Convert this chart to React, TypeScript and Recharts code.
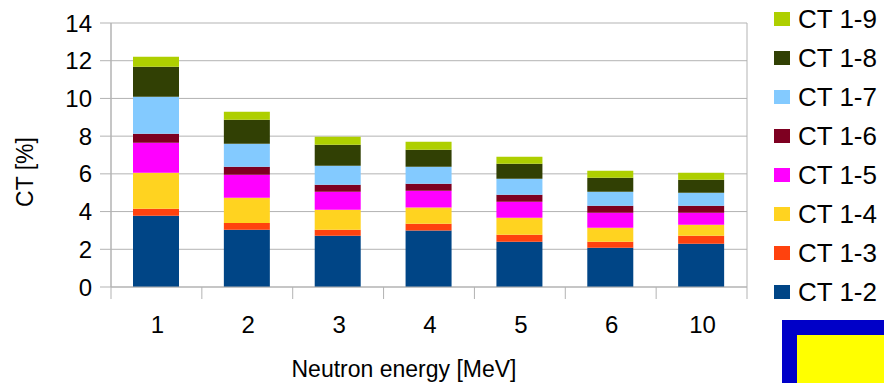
import React from "react";
import { BarChart, Bar, XAxis, YAxis, CartesianGrid } from "recharts";

// neutron energy categories (MeV)
const energies = ["1", "2", "3", "4", "5", "6", "10"];

// crosstalk per channel, in percent
const ct12 = [3.78, 3.04, 2.72, 2.99, 2.4, 2.08, 2.3];
const ct13 = [0.37, 0.36, 0.32, 0.37, 0.37, 0.32, 0.42];
const ct14 = [1.91, 1.33, 1.06, 0.85, 0.9, 0.74, 0.58];
const ct15 = [1.59, 1.22, 0.95, 0.9, 0.85, 0.8, 0.64];
const ct16 = [0.48, 0.43, 0.37, 0.37, 0.37, 0.37, 0.37];
const ct17 = [1.96, 1.22, 1.01, 0.9, 0.85, 0.74, 0.69];
const ct18 = [1.59, 1.27, 1.11, 0.9, 0.8, 0.75, 0.69];
const ct19 = [0.53, 0.42, 0.43, 0.42, 0.37, 0.37, 0.37];

const yTicks = [0, 2, 4, 6, 8, 10, 12, 14];

const series = [
  { key: "ct12", name: "CT 1-2", values: ct12, color: "#004586" },
  { key: "ct13", name: "CT 1-3", values: ct13, color: "#ff420e" },
  { key: "ct14", name: "CT 1-4", values: ct14, color: "#ffd320" },
  { key: "ct15", name: "CT 1-5", values: ct15, color: "#ff00ff" },
  { key: "ct16", name: "CT 1-6", values: ct16, color: "#7e0021" },
  { key: "ct17", name: "CT 1-7", values: ct17, color: "#83caff" },
  { key: "ct18", name: "CT 1-8", values: ct18, color: "#314004" },
  { key: "ct19", name: "CT 1-9", values: ct19, color: "#aecf00" },
];

const data = energies.map((e, i) => {
  const row: Record<string, string | number> = { energy: e };
  series.forEach((s) => (row[s.key] = s.values[i]));
  return row;
});

const W = 884;
const H = 383;
const MARGIN = { top: 23, right: 137, bottom: 0, left: 0 };
const Y_AXIS_W = 111;
const PLOT_W = W - MARGIN.left - MARGIN.right - Y_AXIS_W;
const GRID = "#b3b3b3";
const FONT = "'Liberation Sans', Arial, sans-serif";

// category label plus the separator ticks between categories
const EnergyTick = (props: { x: number; y: number; index: number; payload: { value: string } }) => {
  const half = PLOT_W / energies.length / 2;
  const last = props.index === energies.length - 1;
  return (
    <g>
      <line x1={props.x - half} x2={props.x - half} y1={props.y} y2={props.y + 12} stroke={GRID} />
      {last && <line x1={props.x + half} x2={props.x + half} y1={props.y} y2={props.y + 12} stroke={GRID} />}
      <text x={props.x + 1} y={props.y + 46} textAnchor="middle" fontSize={24} fill="#000" fontFamily={FONT}>
        {props.payload.value}
      </text>
    </g>
  );
};

const XTitle = () => (
  <text x={404} y={377} textAnchor="middle" fontSize={23} fill="#000" fontFamily={FONT}>
    Neutron energy [MeV]
  </text>
);

const YTitle = () => (
  <text x={25} y={172} transform="rotate(-90 25 172)" textAnchor="middle" dominantBaseline="central" fontSize={23} fill="#000" fontFamily={FONT}>
    CT [%]
  </text>
);

function App() {
  return (
    <div style={{ position: "absolute", left: 0, top: 0, width: W, height: H, background: "#fff", fontFamily: FONT }}>
      <BarChart width={W} height={H} data={data} margin={MARGIN} barSize={46}>
        <CartesianGrid
          stroke={GRID}
          verticalCoordinatesGenerator={({ offset }: any) => [offset.left, offset.left + offset.width]}
        />
        <XAxis
          dataKey="energy"
          height={96}
          tickLine={false}
          tickSize={0}
          tickMargin={0}
          axisLine={{ stroke: GRID }}
          tick={EnergyTick}
          interval={0}
          label={<XTitle />}
        />
        <YAxis
          width={Y_AXIS_W}
          domain={[0, 14]}
          ticks={yTicks}
          tickSize={11}
          tickMargin={8}
          tickLine={{ stroke: GRID }}
          axisLine={{ stroke: GRID }}
          tick={{ fontSize: 24, fill: "#000", fontFamily: FONT }}
          label={<YTitle />}
        />
        {series.map((s) => (
          <Bar key={s.key} dataKey={s.key} name={s.name} stackId="ct" fill={s.color} isAnimationActive={false} />
        ))}
      </BarChart>

      <div style={{ position: "absolute", left: 774, top: 0 }}>
        {[...series].reverse().map((s) => (
          <div key={s.key} style={{ height: 38.9, display: "flex", alignItems: "center" }}>
            <span style={{ width: 16, height: 14, background: s.color, marginRight: 8 }} />
            <span style={{ fontSize: 26, color: "#000", lineHeight: 1 }}>{s.name}</span>
          </div>
        ))}
      </div>

      <div
        style={{
          position: "absolute",
          left: 782,
          top: 320,
          width: W - 782 - 15,
          height: H - 320 - 15,
          borderLeft: "15px solid #0000c8",
          borderTop: "15px solid #0000c8",
          background: "#ffff00",
        }}
      />
    </div>
  );
}

export default App;
